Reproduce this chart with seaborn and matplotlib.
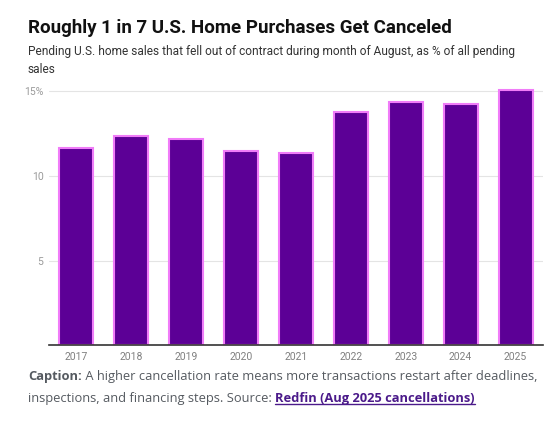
import matplotlib
matplotlib.use("Agg")
import matplotlib.pyplot as plt
import seaborn as sns
import pandas as pd

years = ["2017", "2018", "2019", "2020", "2021", "2022", "2023", "2024", "2025"]
cancel_pct = [11.65, 12.38, 12.2, 11.48, 11.38, 13.76, 14.37, 14.27, 15.1]
ytick_vals = [5, 10, 15]
ytick_labels = ["5", "10", "15%"]

title = "Roughly 1 in 7 U.S. Home Purchases Get Canceled"
subtitle = "Pending U.S. home sales that fell out of contract during month of August, as % of all pending\nsales"

sns.set_theme(style="white")
plt.rcParams["font.family"] = ["Roboto", "DejaVu Sans"]

fig = plt.figure(figsize=(5.6, 4.21), dpi=100)
ax = fig.add_axes([49 / 560, 75.7 / 421, 494 / 560, 259 / 421])

df = pd.DataFrame({"year": years, "pct": cancel_pct})
sns.barplot(data=df, x="year", y="pct", ax=ax, color="#5c0096", saturation=1,
            edgecolor="#f07cf8", linewidth=1.5, width=0.62, zorder=3)

ax.set_ylim(0, 15.3)
ax.set_xlim(-0.5, 8.5)
ax.set_yticks(ytick_vals)
ax.set_yticklabels(ytick_labels)
ax.set_xlabel("")
ax.set_ylabel("")
ax.yaxis.grid(True, color="#e4e4e4", linewidth=0.8, zorder=0)
ax.xaxis.grid(False)
for s in ["top", "right", "left"]:
    ax.spines[s].set_visible(False)
ax.spines["bottom"].set_color("#333333")
ax.spines["bottom"].set_linewidth(1.2)
ax.spines["bottom"].set_zorder(4)
ax.tick_params(axis="y", length=0, labelsize=7.5, labelcolor="#9a9a9a", pad=4)
ax.tick_params(axis="x", length=0, labelsize=7.5, labelcolor="#808080", pad=5)

fig.text(28 / 560, 1 - 28 / 421, title, fontsize=13.5, fontweight="bold",
         color="#111111", va="center", ha="left")
fig.text(28 / 560, 1 - 45.5 / 421, subtitle, fontsize=8.6, color="#333333",
         va="top", ha="left", linespacing=1.42)

# caption with mixed styles
cap_font = ["Open Sans", "DejaVu Sans"]
cap_color = "#555a60"
link_color = "#4b1a8a"
fig.canvas.draw()
renderer = fig.canvas.get_renderer()

def run(parts, x0, y):
    x = x0
    for txt, weight, color, underline in parts:
        t = fig.text(x, y, txt, fontsize=9.28, fontweight=weight, color=color,
                     family=cap_font, va="baseline", ha="left", transform=None)
        bb = t.get_window_extent(renderer)
        if underline:
            fig.add_artist(plt.Line2D([bb.x0, bb.x1], [y - 2, y - 2],
                                      transform=None, color=color, linewidth=1))
        x = bb.x1
    return x

H = 421
run([("Caption:", "bold", cap_color, False),
     (" A higher cancellation rate means more transactions restart after deadlines,", "normal", cap_color, False)],
    28, H - 380)
run([("inspections, and financing steps. Source: ", "normal", cap_color, False),
     ("Redfin (Aug 2025 cancellations)", "bold", link_color, True)],
    28, H - 402)

fig.savefig("out.png", dpi=100)
